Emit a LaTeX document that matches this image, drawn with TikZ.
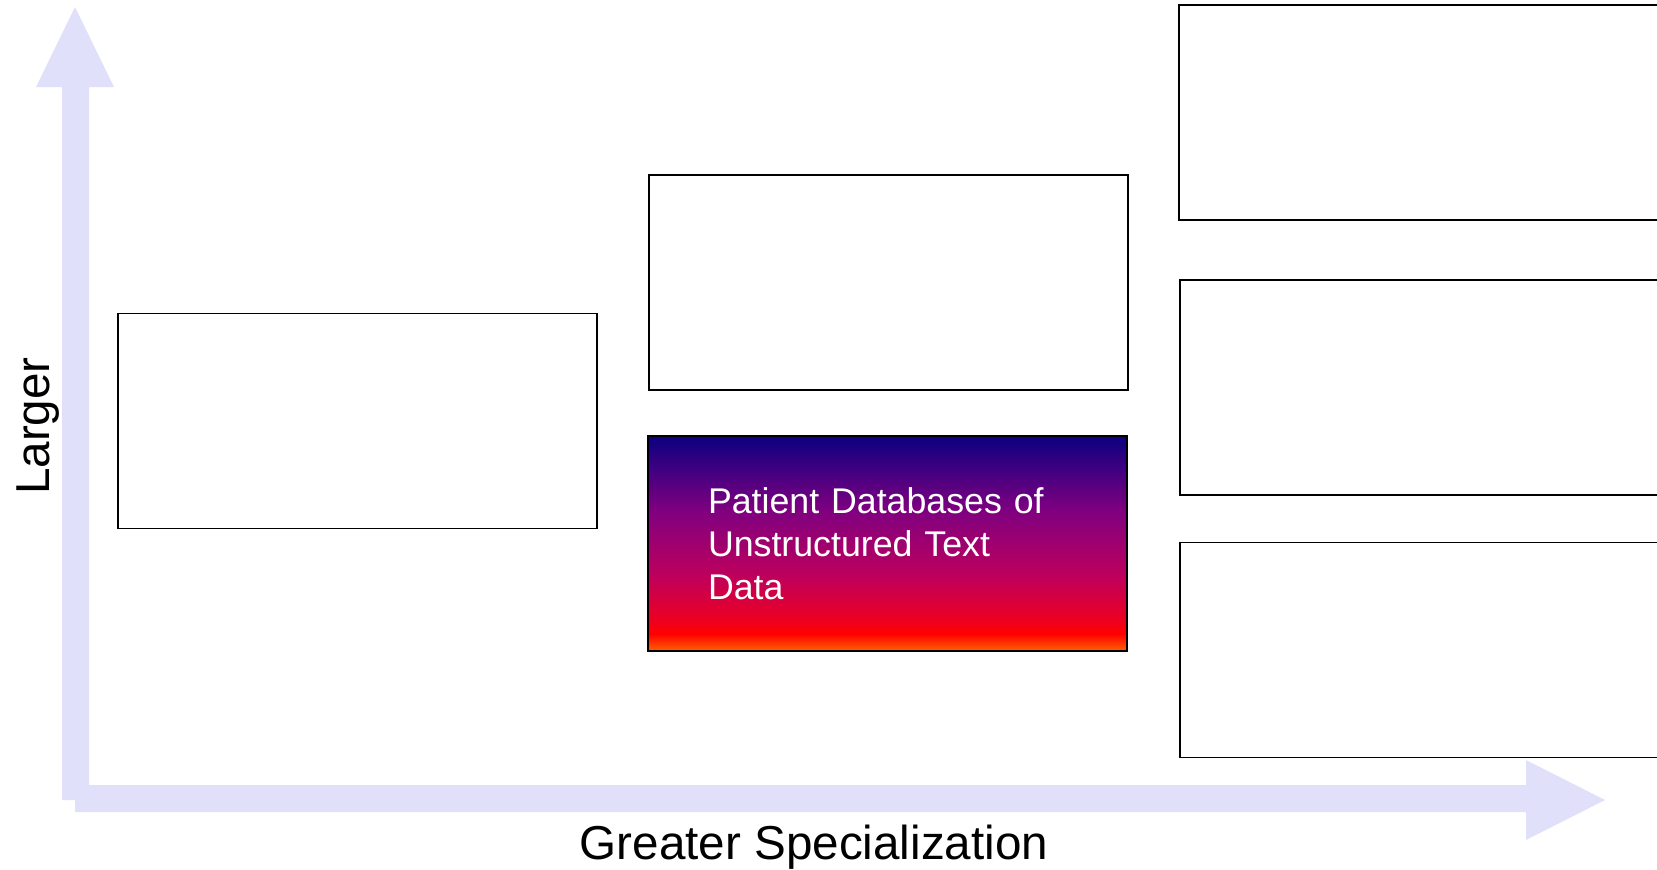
\documentclass[tikz,border=0pt]{standalone}
\usepackage{fontspec}
\setmainfont{Liberation Sans}
\usetikzlibrary{positioning}

\definecolor{axislav}{RGB}{224,224,250}
\definecolor{gradnavy}{RGB}{12,0,128}
\definecolor{gradpurple}{RGB}{128,0,128}
\definecolor{gradmagenta}{RGB}{190,0,92}
\definecolor{gradcrimson}{RGB}{235,0,35}
\definecolor{gradred}{RGB}{255,0,0}
\definecolor{gradorange}{RGB}{255,100,0}
\pgfdeclareverticalshading{sunsetgrad}{100bp}{%
  color(0bp)=(gradorange); color(25bp)=(gradorange);
  color(29bp)=(gradred); color(32.5bp)=(gradcrimson);
  color(42.5bp)=(gradmagenta); color(57.5bp)=(gradpurple);
  color(75bp)=(gradnavy); color(100bp)=(gradnavy)}

\tikzset{
  emptybox/.style={draw, line width=1pt, fill=white, inner sep=0pt, outer sep=0pt,
    minimum width=359.25pt, minimum height=161.25pt},
  sunsetbox/.style={emptybox, shading=sunsetgrad, text=white, align=left,
    text width=269.25pt, inner xsep=45pt,
    font=\fontsize{26.8}{32.2}\selectfont},
  axislabel/.style={font=\fontsize{35.7}{42}\selectfont, inner sep=0pt}
}

\begin{document}
\begin{tikzpicture}[x=0.75pt, y=-0.75pt]

        \useasboundingbox (0,0) rectangle (1657,869);

        %axes
        \coordinate (ytip) at (75,7);
        \coordinate (xtip) at (1605,800);
        \fill[axislav] (62,800) -- (62,87) -- (36,87) -- (ytip) -- (114,87) -- (89,87) -- (89,800) -- cycle;
        \fill[axislav] (75,785) -- (1526,785) -- (1526,760) -- (xtip) -- (1526,840) -- (1526,812) -- (75,812) -- cycle;

        %axis labels
        \node[axislabel, rotate=90, anchor=base] (larger) at (49,426) {Larger};
        \node[axislabel, anchor=base] (special) at (814,859) {Greater Specialization};

        %first column
        \node[emptybox] (leftbox) at (357.5,421) {};

        %second column
        \node[emptybox] (midtop) at (888.5,282.5) {};
        \node[sunsetbox] (patientdb) at (887.5,543.5) {Patient Databases of\\Unstructured Text\\Data};

        %third column
        \node[emptybox] (righttop) at (1418.5,112.5) {};
        \node[emptybox] (rightmid) at (1419.5,387.5) {};
        \node[emptybox] (rightbot) at (1419.5,650) {};

\end{tikzpicture}
\end{document}
